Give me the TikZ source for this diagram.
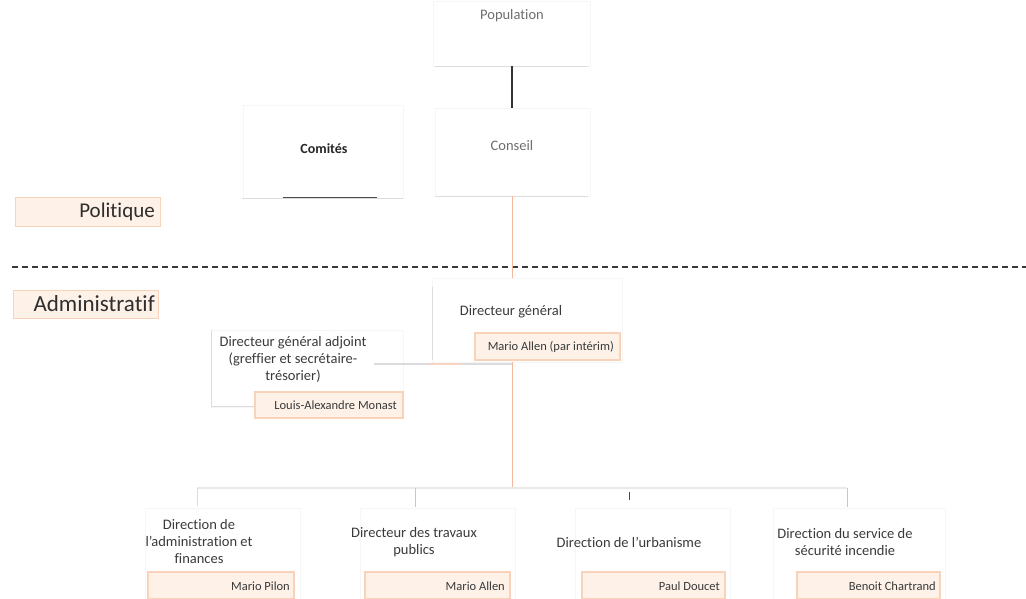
\documentclass[tikz,border=0pt]{standalone}
\usepackage{fontspec}
\setmainfont[Ligatures=NoCommon]{Carlito}
\definecolor{peachfill}{HTML}{FDF1E8}
\definecolor{peachdraw}{HTML}{F8D3BA}
\definecolor{salmon}{HTML}{F4B89A}
\definecolor{txt}{HTML}{3A3A3A}
\definecolor{lighttxt}{HTML}{6E6E6E}
\definecolor{framec}{HTML}{F6F6F6}
\definecolor{lineg}{HTML}{DCDCDC}
\begin{document}
\begin{tikzpicture}[x=1pt,y=-1pt,
  lbl/.style={inner sep=0pt,align=center,text=txt,font=\fontsize{14.5}{17}\selectfont},
  toplbl/.style={inner sep=0pt,align=center,text=lighttxt,font=\fontsize{14.5}{17}\selectfont},
  namebox/.style={fill=peachfill,draw=peachdraw,line width=1.2pt},
  nametxt/.style={inner sep=0pt,anchor=east,text=txt,font=\fontsize{12.5}{15}\selectfont},
  frame/.style={draw=framec,line width=0.7pt},
  sidebox/.style={fill=peachfill,draw=peachdraw,line width=1pt},
  sidetxt/.style={inner sep=0pt,anchor=east,text=black!82},
  conn/.style={draw=salmon,line width=1pt},
  gconn/.style={draw=lineg,line width=0.9pt}
]
\useasboundingbox (0,0) rectangle (1026,599);

% ---- Population
\coordinate (popA) at (433,1);
\coordinate (popB) at (590,66);
\draw[frame] (popA) rectangle (popB);
\draw[gconn] (435,66) -- (588,66);
\node[toplbl] (pop) at (512,16) {Population};
\coordinate (popS) at (512,66);

% ---- Conseil
\coordinate (conA) at (435,108);
\coordinate (conB) at (590,196);
\draw[frame] (conA) rectangle (conB);
\draw[gconn] (435,196) -- (588,196);
\node[toplbl] (conseil) at (512,146) {Conseil};
\coordinate (conN) at (512,108);
\coordinate (conS) at (512,196);

% ---- Comités
\coordinate (comA) at (243,105);
\coordinate (comB) at (403,198);
\draw[frame] (comA) rectangle (comB);
\draw[gconn] (242,198) -- (403,198);
\draw[draw=black!70,line width=1pt] (283,198) -- (377,198);
\node[lbl,text=black!85,font=\bfseries\fontsize{14}{17}\selectfont] (comites) at (324,149) {Comités};

% ---- Politique / Administratif
\draw[sidebox] (15,198) rectangle (160,226);
\node[sidetxt,font=\fontsize{21}{24}\selectfont] (politique) at (155,212) {Politique};
\draw[dash pattern=on 6pt off 4pt,line width=2pt,draw=black!78] (12,267) -- (1026,267);
\draw[sidebox] (13,290) rectangle (158,318);
\node[sidetxt,font=\fontsize{23}{26}\selectfont] (admin) at (155,304) {Administratif};

% ---- Directeur général
\coordinate (dgA) at (432,278);
\coordinate (dgB) at (622,362);
\draw[frame] (dgA) rectangle (dgB);
\draw[draw=lineg,line width=1pt] (432,287) -- (432,360);
\node[lbl] (dg) at (511,312) {Directeur général};
\draw[namebox] (475,333) rectangle (620,360);
\node[nametxt] (dgname) at (614,347) {Mario Allen (par intérim)};
\coordinate (dgN) at (512,278);
\coordinate (dgS) at (512,362);

% ---- Directeur général adjoint
\coordinate (adjA) at (211,330);
\coordinate (adjB) at (403,407);
\draw[frame] (adjA) rectangle (adjB);
\draw[draw=lineg,line width=1pt] (211,330) -- (211,406) -- (255,406);
\node[lbl] (adj) at (293,359) {Directeur général adjoint\\(greffier et secrétaire-\\trésorier)};
\draw[namebox] (255,392) rectangle (403,418);
\node[nametxt] (adjname) at (397,405) {Louis-Alexandre Monast};
\coordinate (adjE) at (374,364);
\coordinate (dgJ) at (512,364);

% ---- bottom units
\draw[frame] (145,508) rectangle (300,599);
\node[lbl] (dadm) at (199,542) {Direction de\\l'administration et\\finances};
\draw[namebox] (148,572) rectangle (294,599);
\node[nametxt] (n1) at (290,586) {Mario Pilon};

\draw[frame] (360,508) rectangle (515,599);
\node[lbl] (dtrav) at (414,542) {Directeur des travaux\\publics};
\draw[namebox] (365,572) rectangle (510,599);
\node[nametxt] (n2) at (505,586) {Mario Allen};

\draw[frame] (575,508) rectangle (730,599);
\node[lbl] (durb) at (629,542) {Direction de l'urbanisme};
\draw[namebox] (582,572) rectangle (725,599);
\node[nametxt] (n3) at (720,586) {Paul Doucet};

\draw[frame] (773,508) rectangle (945,599);
\node[lbl] (dinc) at (845,542) {Direction du service de\\sécurité incendie};
\draw[namebox] (797,572) rectangle (940,599);
\node[nametxt] (n4) at (936,586) {Benoit Chartrand};

% ---- connectors
\draw[draw=black!80,line width=1.2pt] (popS) -- (conN);
\draw[conn] (conS) -- (dgN);
\draw[conn] (dgS) -- (512,488) coordinate (bus);
\draw[draw=lineg,line width=1.2pt] (dgJ) -- (adjE);
\draw[draw=salmon!60,line width=1.2pt] (430,364) -- (462,364);
\coordinate (b1) at (197,488);
\coordinate (b2) at (415,488);
\coordinate (b3) at (629,488);
\coordinate (b4) at (847,488);
\draw[draw=framec!50!lineg,line width=1.2pt] (b1) -- (b4);
\draw[gconn] (b1) -- (197,506);
\draw[conn] (b2) -- (415,507);
\draw[draw=black!70,line width=0.8pt] (629,492) -- (629,500);
\draw[conn] (b4) -- (847,507);
\end{tikzpicture}
\end{document}
